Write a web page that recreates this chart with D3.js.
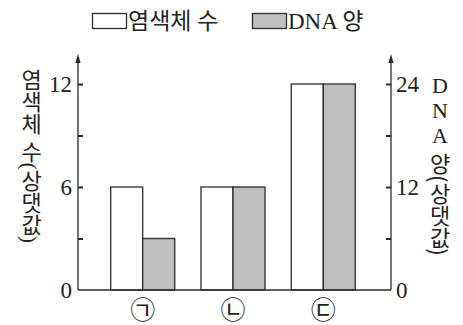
<!DOCTYPE html>
<html>
<head>
<meta charset="utf-8">
<script src="https://cdn.jsdelivr.net/npm/d3@7"></script>
<style>
  html, body { margin: 0; padding: 0; background: #fff; }
  svg { display: block; }
  text { font-family: "Liberation Serif", "Noto Sans CJK KR", serif; fill: #222; }
</style>
</head>
<body>
<svg id="chart" width="463" height="325"></svg>
<script>
// ---- data ----
const categories = ["㉠", "㉡", "㉢"];
const seriesNames = ["염색체 수", "DNA 양"];
const chromosomeValues = [6, 6, 12];   // left axis (상댓값)
const dnaValues = [6, 12, 24];         // right axis (상댓값)
const leftTicks = [0, 3, 6, 9, 12];
const leftTickLabels = [0, 6, 12];
const rightTicks = [0, 6, 12, 18, 24];
const rightTickLabels = [0, 12, 24];
const leftTitle = "염색체 수(상댓값)";
const rightTitleLatin = "DNA";
const rightTitleRest = " 양(상댓값)";

// ---- layout ----
const svg = d3.select("#chart");
const axisLeftX = 78, axisRightX = 391;
const baseY = 290, topY = 84;
const stroke = "#2b2b2b";
const grayFill = "#bfbfbf";

const x = d3.scaleBand().domain(categories).range([76, 390]).paddingInner(0.291).paddingOuter(0.384);
const xs = d3.scaleBand().domain(seriesNames).range([0, x.bandwidth()]);
const yL = d3.scaleLinear().domain([0, 12]).range([baseY, topY]);
const yR = d3.scaleLinear().domain([0, 24]).range([baseY, topY]);

// bars
const g = svg.append("g");
g.selectAll("rect.chrom").data(categories).join("rect")
  .attr("class", "chrom")
  .attr("x", (d) => x(d) + xs(seriesNames[0]))
  .attr("width", xs.bandwidth())
  .attr("y", (d, i) => yL(chromosomeValues[i]))
  .attr("height", (d, i) => baseY - yL(chromosomeValues[i]))
  .attr("fill", "#fff").attr("stroke", stroke).attr("stroke-width", 1.3);
g.selectAll("rect.dna").data(categories).join("rect")
  .attr("class", "dna")
  .attr("x", (d) => x(d) + xs(seriesNames[1]))
  .attr("width", xs.bandwidth())
  .attr("y", (d, i) => yR(dnaValues[i]))
  .attr("height", (d, i) => baseY - yR(dnaValues[i]))
  .attr("fill", grayFill).attr("stroke", stroke).attr("stroke-width", 1.3);

// baseline
svg.append("line").attr("x1", axisLeftX).attr("x2", axisRightX)
  .attr("y1", baseY).attr("y2", baseY).attr("stroke", stroke).attr("stroke-width", 1.5);

// axes
const leftAxis = d3.axisLeft(yL).tickValues(leftTicks).tickSize(-5).tickPadding(6)
  .tickFormat((d) => leftTickLabels.includes(d) ? d : "");
const gl = svg.append("g").attr("transform", `translate(${axisLeftX},0)`).call(leftAxis);
const rightAxis = d3.axisRight(yR).tickValues(rightTicks).tickSize(-5).tickPadding(5)
  .tickFormat((d) => rightTickLabels.includes(d) ? d : "");
const gr = svg.append("g").attr("transform", `translate(${axisRightX},0)`).call(rightAxis);
[gl, gr].forEach((a) => {
  a.select(".domain").remove();
  a.selectAll(".tick line").attr("stroke", stroke).attr("stroke-width", 2);
  a.selectAll(".tick").filter((d) => d === 0).select("line").remove();
  a.selectAll(".tick text").attr("font-size", 23).attr("fill", "#222")
    .attr("font-family", "'Liberation Serif', serif");
});

// axis lines with arrows
[axisLeftX, axisRightX].forEach((ax) => {
  svg.append("line").attr("x1", ax).attr("x2", ax).attr("y1", baseY).attr("y2", 60)
    .attr("stroke", stroke).attr("stroke-width", 1.3);
  svg.append("path").attr("d", `M${ax},54 L${ax - 2.6},63 L${ax + 2.6},63 Z`).attr("fill", stroke);
});

// category labels
svg.selectAll("text.cat").data(categories).join("text")
  .attr("class", "cat")
  .attr("x", (d) => x(d) + x.bandwidth() / 2)
  .attr("y", 310)
  .attr("text-anchor", "middle").attr("dominant-baseline", "central")
  .attr("font-family", "'Noto Sans CJK KR', sans-serif")
  .attr("font-size", 25).text((d) => d);

// axis titles (vertical)
svg.append("text")
  .attr("x", 29).attr("y", 69)
  .style("writing-mode", "vertical-rl")
  .attr("font-size", 22)
  .attr("font-family", "'Noto Sans CJK KR', sans-serif")
  .text(leftTitle);

const rt = svg.append("text")
  .attr("x", 440).attr("y", 73)
  .style("writing-mode", "vertical-rl")
  .attr("font-size", 22);
rt.append("tspan").style("text-orientation", "upright")
  .attr("font-family", "'Liberation Serif', serif").text(rightTitleLatin);
rt.append("tspan").attr("font-family", "'Noto Sans CJK KR', sans-serif").text(rightTitleRest);

// legend
const legend = svg.append("g");
const legendItems = [
  { name: seriesNames[0], fill: "#fff", bx: 92.5, tx: 128 },
  { name: seriesNames[1], fill: grayFill, bx: 252.5, tx: 288 }
];
legend.selectAll("rect").data(legendItems).join("rect")
  .attr("x", (d) => d.bx).attr("y", 13.5).attr("width", 34).attr("height", 15)
  .attr("fill", (d) => d.fill).attr("stroke", stroke).attr("stroke-width", 1.3);
legend.selectAll("text").data(legendItems).join("text")
  .attr("x", (d) => d.tx).attr("y", 21)
  .attr("dominant-baseline", "central")
  .attr("font-size", 23).text((d) => d.name);
</script>
</body>
</html>
